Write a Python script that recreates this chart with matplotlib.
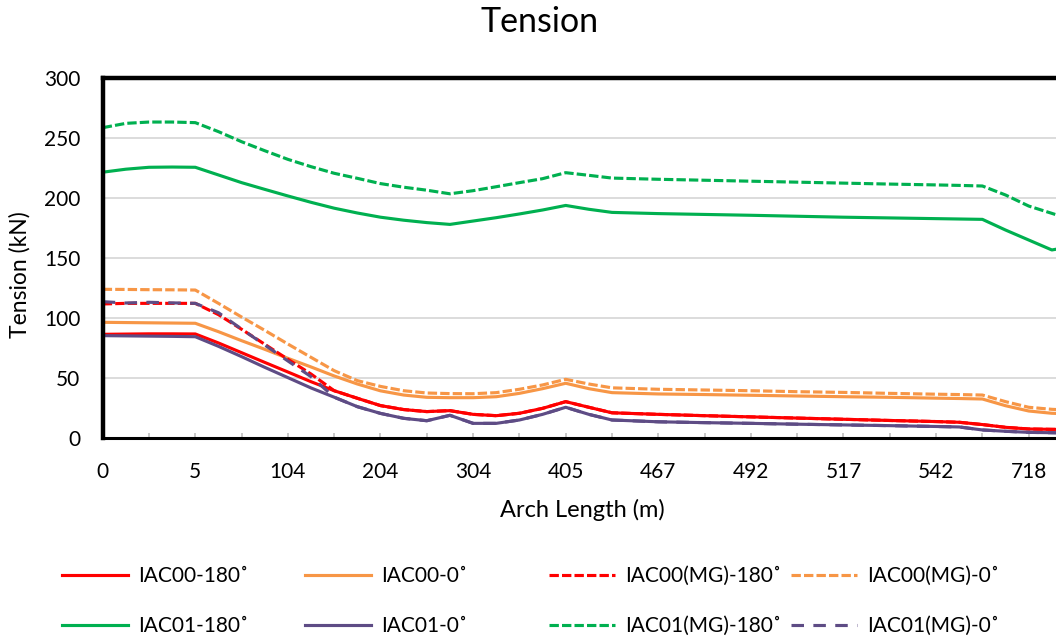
import matplotlib.pyplot as plt
from matplotlib.lines import Line2D

plt.rcParams['font.family'] = ['Lato', 'DejaVu Sans']

# station index along the arch (category axis, 2 stations per tick mark)
station = [0, 1, 2, 3, 4, 5, 6, 7, 8, 9, 10, 11, 12, 13, 14, 15, 16, 17, 18, 19, 20,
           21, 22, 24, 26, 28, 30, 32, 34, 36, 37, 38, 39, 40, 41, 42]

label_pos = [0, 4, 8, 12, 16, 20, 24, 28, 32, 36, 40]
label_txt = ['0', '5', '104', '204', '304', '405', '467', '492', '517', '542', '718']

iac00_180 = [86.4, 86.6, 86.8, 86.8, 86.7, 79.2, 71.1, 63.0, 55.0, 46.9, 39.4, 33.1, 27.0,
             23.7, 22.0, 22.8, 19.7, 18.6, 20.6, 24.7, 30.3, 25.6, 21.0, 19.7, 18.6, 17.6,
             16.6, 15.6, 14.6, 13.7, 13.1, 11.2, 8.9, 7.5, 7.2, 7.0]
iac00_0 = [96.4, 96.2, 96.0, 95.8, 95.6, 88.6, 81.1, 73.9, 66.4, 59.2, 51.7, 45.0, 39.3,
           35.8, 33.9, 33.6, 33.6, 34.4, 37.2, 41.1, 45.6, 41.1, 37.8, 36.7, 36.2, 35.6,
           35.0, 34.4, 33.9, 33.2, 32.9, 32.5, 26.9, 22.5, 20.6, 20.0]
iac00mg_180 = [111.7, 112.2, 112.2, 112.2, 112.2, 102.8, 90.6, 78.1, 65.6, 53.3, 39.4, 33.1,
               27.0, 23.7, 22.0, 22.8, 19.7, 18.6, 20.6, 24.7, 30.3, 25.6, 21.0, 19.7, 18.6,
               17.6, 16.6, 15.6, 14.6, 13.7, 13.1, 11.2, 8.9, 7.5, 7.2, 7.0]
iac00mg_0 = [123.9, 123.8, 123.6, 123.5, 123.3, 112.2, 100.8, 89.7, 78.3, 67.2, 56.1, 47.8,
             43.0, 39.4, 37.5, 37.0, 36.9, 37.8, 40.6, 44.2, 48.9, 45.0, 41.8, 40.6, 40.0,
             39.4, 38.6, 38.0, 37.2, 36.5, 36.2, 35.8, 30.3, 25.6, 23.9, 23.0]
iac01_180 = [221.5, 224.0, 225.6, 225.8, 225.6, 219.2, 212.8, 207.2, 201.7, 196.4, 191.5,
             187.5, 184.0, 181.5, 179.5, 178.0, 180.8, 183.6, 186.7, 190.0, 193.8, 190.6,
             188.0, 187.0, 186.3, 185.6, 184.8, 184.0, 183.4, 182.8, 182.5, 182.2, 173.3,
             165.0, 156.7, 160.0]
iac01_0 = [85.3, 85.1, 84.9, 84.7, 84.4, 76.4, 67.8, 58.9, 50.3, 41.7, 34.0, 26.1, 20.5,
           16.4, 14.4, 18.9, 12.2, 12.2, 15.0, 19.7, 25.6, 19.7, 15.0, 13.5, 12.8, 12.2,
           11.5, 10.9, 10.3, 9.6, 9.2, 6.7, 5.6, 4.7, 4.4, 4.2]
iac01mg_180 = [258.6, 262.2, 263.3, 263.3, 262.8, 255.3, 246.9, 239.4, 232.2, 226.1, 220.6,
               216.4, 212.0, 209.0, 206.5, 203.5, 206.1, 209.4, 212.8, 216.1, 221.1, 218.9,
               216.6, 215.6, 214.8, 214.0, 213.2, 212.4, 211.6, 210.9, 210.5, 210.0, 202.5,
               193.3, 187.2, 181.0]
iac01mg_0 = [113.6, 112.5, 113.1, 112.6, 112.2, 104.4, 90.8, 77.5, 64.2, 51.1, 34.0, 26.1,
             20.5, 16.4, 14.4, 18.9, 12.2, 12.2, 15.0, 19.7, 25.6, 19.7, 15.0, 13.5, 12.8,
             12.2, 11.5, 10.9, 10.3, 9.6, 9.2, 6.7, 5.6, 4.7, 4.4, 4.2]

RED = '#FF0000'
ORANGE = '#F79646'
GREEN = '#00B050'
PURPLE = '#5E4C85'
SYSDASH = (0, (3, 1))
DASH = (0, (4, 3))

series = [
    ('IAC00-180˚', iac00_180, RED, '-'),
    ('IAC00-0˚', iac00_0, ORANGE, '-'),
    ('IAC00(MG)-180˚', iac00mg_180, RED, SYSDASH),
    ('IAC00(MG)-0˚', iac00mg_0, ORANGE, SYSDASH),
    ('IAC01-180˚', iac01_180, GREEN, '-'),
    ('IAC01-0˚', iac01_0, PURPLE, '-'),
    ('IAC01(MG)-180˚', iac01mg_180, GREEN, SYSDASH),
    ('IAC01(MG)-0˚', iac01mg_0, PURPLE, DASH),
]

W, H = 1056, 637
fig = plt.figure(figsize=(W / 100, H / 100), dpi=100)
left, right, top, bottom = 102.7, 1075.0, 78.0, 438.0
ax = fig.add_axes([left / W, 1 - bottom / H, (right - left) / W, (bottom - top) / H])

handles = []
for name, vals, col, ls in series:
    ax.plot(station, vals, color=col, linestyle=ls, linewidth=2.25,
            solid_joinstyle='round', label=name)
    handles.append(Line2D([], [], color=col, linestyle=ls, linewidth=2.25))

ax.set_xlim(0, 42)
ax.set_ylim(0, 300)
ax.set_yticks(range(0, 301, 50))
ax.yaxis.grid(True, color='#D9D9D9', linewidth=1.3)
ax.set_axisbelow(True)

ax.set_xticks(label_pos)
ax.set_xticklabels(label_txt)
ax.set_xticks([p + 2 for p in label_pos], minor=True)
ax.tick_params(axis='x', which='both', direction='in', length=3.6, width=1.2,
               color='#BFBFBF', pad=17, labelsize=15)
ax.tick_params(axis='y', length=0, pad=16, labelsize=15)

ax.spines['right'].set_visible(False)
ax.spines['top'].set_linewidth(3.2)
ax.spines['left'].set_linewidth(3.2)
ax.spines['bottom'].set_linewidth(2.2)
for s in ['top', 'left', 'bottom']:
    ax.spines[s].set_color('black')

fig.text(540 / W, 1 - 22 / H, 'Tension', ha='center', va='center', fontsize=24.5)
fig.text(582 / W, 1 - 510 / H, 'Arch Length (m)', ha='center', va='center', fontsize=17)
fig.text(20 / W, 1 - 275 / H, 'Tension (kN)', ha='center', va='center', rotation=90,
         fontsize=16.5)

labels = [s[0] for s in series]
col_x = [62, 305, 549, 791]
for c in range(4):
    idx = [c, c + 4]
    fig.legend([handles[i] for i in idx], [labels[i] for i in idx], loc='upper left',
               bbox_to_anchor=(col_x[c] / W, 1 - 566 / H), bbox_transform=fig.transFigure,
               frameon=False, borderpad=0, borderaxespad=0, fontsize=15,
               handlelength=3.17, handletextpad=0.48, labelspacing=1.45)

fig.savefig('out.png', dpi=100)
